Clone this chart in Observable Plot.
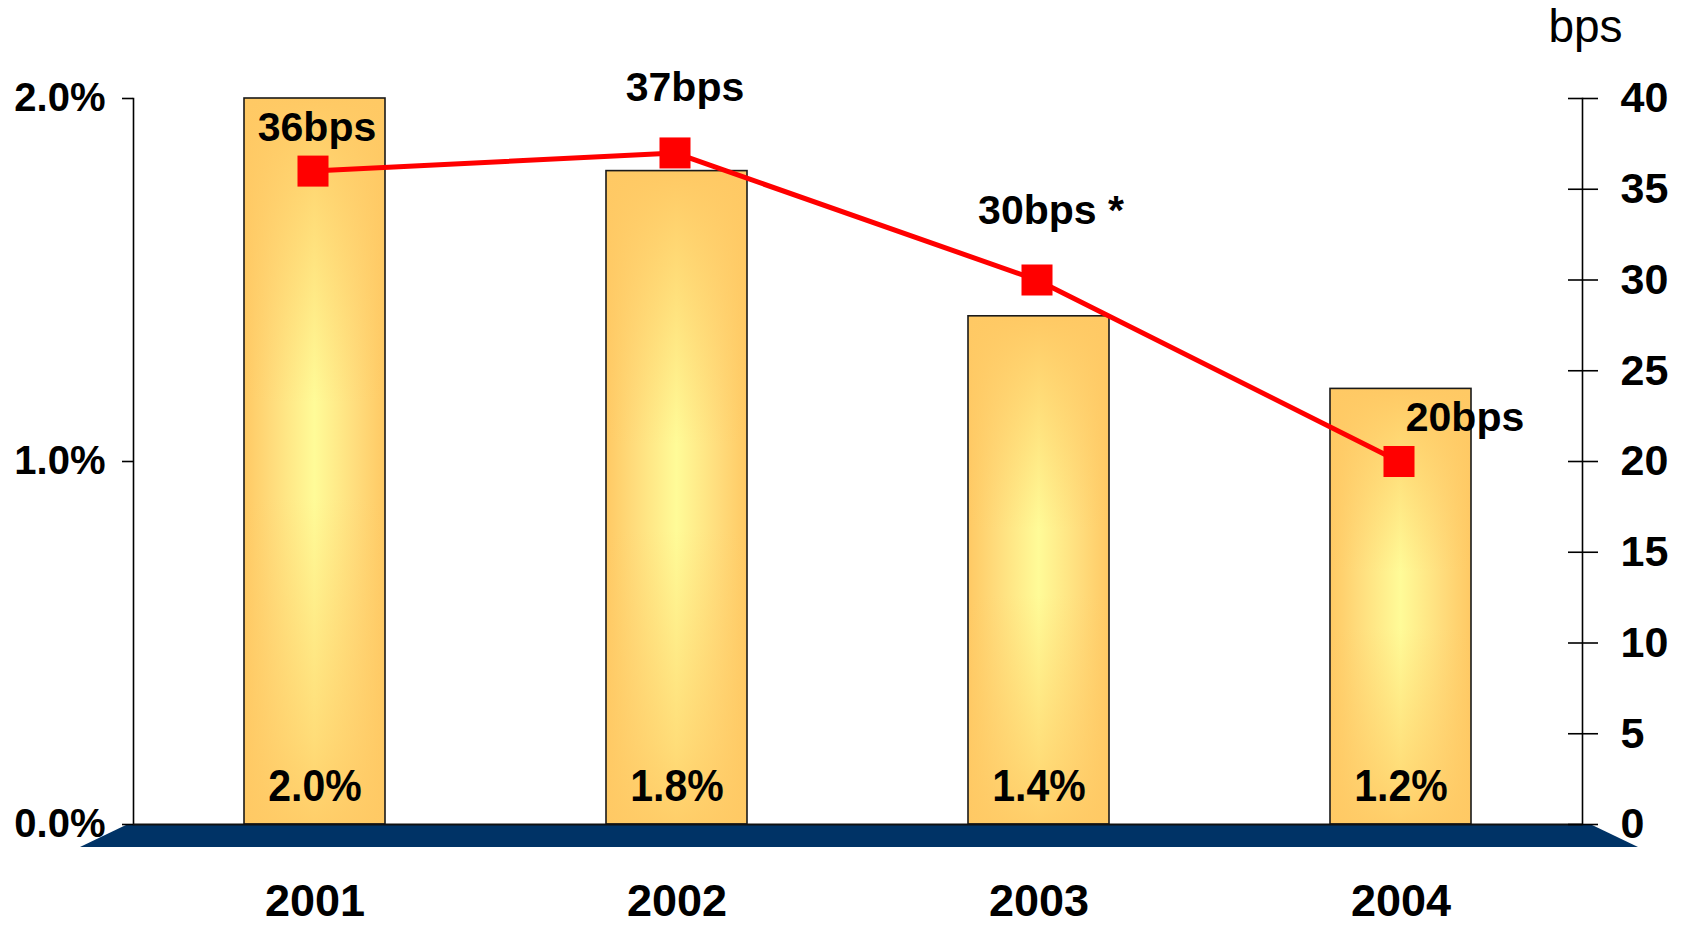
<!DOCTYPE html>
<html>
<head>
<meta charset="utf-8">
<script src="https://cdn.jsdelivr.net/npm/d3@7"></script>
<script src="https://cdn.jsdelivr.net/npm/@observablehq/plot@0.6"></script>
<style>
  html, body { margin: 0; padding: 0; background: #fff; }
  #chart svg { display: block; }
</style>
</head>
<body>
<div id="chart"></div>
<script>
// ---- data ----
const years = ["2001", "2002", "2003", "2004"];
const ratePct = [2.0, 1.8, 1.4, 1.2];          // bars, left axis (%)
const spreadBps = [36, 37, 30, 20];            // line, right axis (bps)
const bpsNotes = ["", "", " *", ""];
const leftTicks = [0, 1, 2];
const rightTicks = [0, 5, 10, 15, 20, 25, 30, 35, 40];

const BPS_PER_PCT = 20; // right axis 0–40 bps maps onto left 0–2.0 %

const rows = years.map((y, i) => ({
  year: y, pct: ratePct[i], bps: spreadBps[i], note: bpsNotes[i]
}));

const FONT = "'Liberation Sans', Arial, Helvetica, sans-serif";
const labelOffsets = [[2, -30], [8, -52], [12, -56], [64, -31]];

const marks = [
  // bars: horizontal gradient, vertical overlay, outline
  Plot.barY(rows, {x: "year", y: "pct", fill: "url(#barH)"}),
  Plot.barY(rows, {x: "year", y: "pct", fill: "url(#barV)"}),
  Plot.barY(rows, {x: "year", y: "pct", fill: "none", stroke: "#1a1a1a", strokeWidth: 1.6}),
  // bar value labels
  Plot.text(rows, {x: "year", y: 0, text: d => d.pct.toFixed(1) + "%", lineAnchor: "bottom", dy: -24,
    fontSize: 41, fontWeight: "bold", fill: "#000"}),
  // axis lines
  Plot.frame({anchor: "left", stroke: "#000", strokeWidth: 1.6}),
  Plot.frame({anchor: "right", stroke: "#000", strokeWidth: 1.6}),
  Plot.ruleY([0], {stroke: "#111", strokeWidth: 2}),
  Plot.axisY(leftTicks, {anchor: "left", tickSize: 11, tickPadding: 17,
    tickFormat: d => d.toFixed(1) + "%", fontSize: 40, fontWeight: "bold", label: null, stroke: "#000", strokeWidth: 1.6}),
  Plot.axisY(rightTicks.map(t => t / BPS_PER_PCT), {anchor: "right", tickSize: 30, dx: -15, tickPadding: 23,
    tickFormat: d => String(Math.round(d * BPS_PER_PCT)), fontSize: 43, fontWeight: "bold", label: null, stroke: "#000", strokeWidth: 1.6}),
  Plot.axisX({tickSize: 0, tickPadding: 60, fontSize: 45, fontWeight: "bold", label: null}),
  // line + markers
  Plot.line(rows, {x: "year", y: d => d.bps / BPS_PER_PCT, stroke: "#ff0000", strokeWidth: 5, dx: -2}),
  Plot.dot(rows, {x: "year", y: d => d.bps / BPS_PER_PCT, symbol: "square", r: 17.5, fill: "#ff0000", dx: -2}),
  // bps axis title
  Plot.text(["bps"], {frameAnchor: "top-right", text: d => d, textAnchor: "middle", lineAnchor: "bottom",
    dx: 3, dy: -57, fontSize: 46, fontWeight: "normal", fill: "#000"})
];

// line value labels
rows.forEach((r, i) => {
  marks.push(Plot.text([r], {x: "year", y: d => d.bps / BPS_PER_PCT, text: d => d.bps + "bps" + d.note,
    lineAnchor: "bottom", dx: labelOffsets[i][0], dy: labelOffsets[i][1],
    fontSize: 41, fontWeight: "bold", fill: "#000"}));
});

const plot = Plot.plot({
  width: 1681,
  height: 930,
  marginLeft: 133,
  marginRight: 99,
  marginTop: 98,
  marginBottom: 106,
  style: {fontFamily: FONT, color: "#000", background: "#fff", overflow: "visible"},
  x: {domain: years, paddingInner: 0.61, paddingOuter: 0.305, axis: null},
  y: {domain: [0, 2], axis: null},
  marks
});

// gradients + navy base band
const svg = d3.select(plot);
const defs = svg.insert("defs", ":first-child");
const gh = defs.append("linearGradient").attr("id", "barH").attr("x1", 0).attr("x2", 1).attr("y1", 0).attr("y2", 0);
[[0, "#ffc964"], [0.2, "#ffdc7c"], [0.5, "#fffb98"], [0.8, "#ffdc7c"], [1, "#ffc964"]]
  .forEach(([o, c]) => gh.append("stop").attr("offset", o).attr("stop-color", c));
const gv = defs.append("linearGradient").attr("id", "barV").attr("x1", 0).attr("x2", 0).attr("y1", 0).attr("y2", 1);
[[0, 1], [0.1, 0.75], [0.42, 0], [0.55, 0], [0.88, 0.6], [1, 0.9]]
  .forEach(([o, a]) => gv.append("stop").attr("offset", o).attr("stop-color", "#ffc964").attr("stop-opacity", a));

const xs = plot.scale("x").range;
const yb = plot.scale("y").apply(0);
const left = Math.min(...xs), right = Math.max(...xs);
svg.insert("polygon", "defs + *")
  .attr("points", [[left - 5, yb], [right + 8, yb], [right + 56, yb + 23], [left - 53, yb + 23]].map(p => p.join(",")).join(" "))
  .attr("fill", "#003366");

// slightly taller glyphs for the in-bar value labels, as in the reference
svg.selectAll('g[aria-label="text"] text').filter(function () {
  return /%$/.test(this.textContent);
}).each(function () {
  const t = this.getAttribute("transform") || "";
  const x = +(this.getAttribute("x") || 0), y = +(this.getAttribute("y") || 0);
  this.removeAttribute("x"); this.removeAttribute("y");
  this.setAttribute("transform", `${t} translate(${x},${y}) scale(1,1.07)`);
});

document.getElementById("chart").appendChild(plot);
</script>
</body>
</html>
